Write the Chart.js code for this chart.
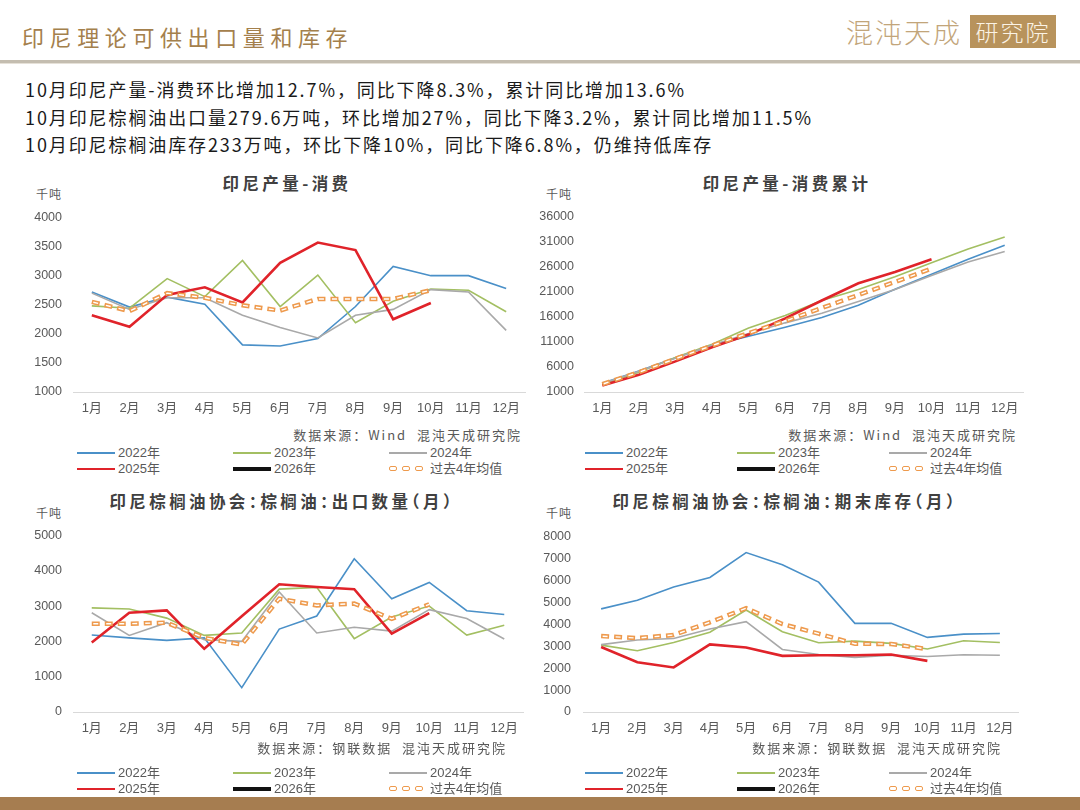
<!DOCTYPE html>
<html>
<head>
<meta charset="utf-8">
<script src="https://cdn.jsdelivr.net/npm/chart.js"></script>
<style>
  body { margin: 0; background: #fff; }
  #page { position: relative; width: 1080px; height: 810px; overflow: hidden; background: #fff; font-family: 'Noto Sans CJK SC', sans-serif; }
  .abs { position: absolute; }
  #head { left: 22px; top: 20px; font-size: 22px; color: #a4804c; letter-spacing: 5.6px; }
  #logo1 { left: 846px; top: 12px; font-size: 27px; font-weight: 300; color: #c2a57a; letter-spacing: 2px; }
  #logo2 { left: 970px; top: 15px; width: 86px; height: 33px; background: #b8935c; color: #fbf3e6; font-size: 23px; font-weight: 300; line-height: 33px; text-align: center; letter-spacing: 2px; }
  #rule { left: 0; top: 60px; width: 1080px; height: 3px; background: #c4bdb0; }
  #rule2 { left: 0; top: 63px; width: 1080px; height: 1px; background: #e6e1d8; }
  #foot { left: 0; top: 797px; width: 1080px; height: 13px; background: #a67d50; }
  .note { left: 25px; font-size: 18px; color: #1a1a1a; letter-spacing: 1.9px; line-height: 24px; }
  .ctitle { width: 420px; text-align: center; font-size: 16.5px; font-weight: bold; color: #404040; letter-spacing: 3.4px; line-height: 20px; font-feature-settings: "halt"; }
  .unit { font-size: 12px; color: #595959; letter-spacing: 1px; line-height: 14px; }
  .src { width: 300px; text-align: right; font-size: 13px; color: #595959; letter-spacing: 2px; line-height: 16px; white-space: pre; }
  .box { position: absolute; }
  .leg { font-size: 13px; color: #595959; line-height: 16px; font-family: 'Liberation Sans', 'Noto Sans CJK SC', sans-serif; }
  .sw { position: absolute; width: 38px; }
  .cap { position: absolute; top: -3px; width: 6px; height: 3px; border: 1.5px solid #ee9a4d; border-radius: 2px; }
</style>
</head>
<body>
<div id="page">
  <div class="abs" id="head">印尼理论可供出口量和库存</div>
  <div class="abs" id="logo1">混沌天成</div>
  <div class="abs" id="logo2">研究院</div>
  <div class="abs" id="rule"></div>
  <div class="abs" id="rule2"></div>
  <div class="abs note" style="top:77px">10月印尼产量-消费环比增加12.7%，同比下降8.3%，累计同比增加13.6%</div>
  <div class="abs note" style="top:105px">10月印尼棕榈油出口量279.6万吨，环比增加27%，同比下降3.2%，累计同比增加11.5%</div>
  <div class="abs note" style="top:132px">10月印尼棕榈油库存233万吨，环比下降10%，同比下降6.8%，仍维持低库存</div>
  <div class="abs" id="foot"></div>
</div>
<script>
const months = ['1月', '2月', '3月', '4月', '5月', '6月', '7月', '8月', '9月', '10月', '11月', '12月']
const seriesNames = ['2022年', '2023年', '2024年', '2025年', '2026年', '过去4年均值']

// 印尼产量-消费 (千吨)
const prod2022 = [2720, 2460, 2630, 2510, 1810, 1790, 1920, 2470, 3160, 3000, 3000, 2780]
const prod2023 = [2480, 2440, 2950, 2640, 3260, 2470, 3010, 2190, 2560, 2770, 2750, 2380]
const prod2024 = [2700, 2420, 2620, 2620, 2320, 2110, 1930, 2320, 2420, 2760, 2720, 2060]
const prod2025 = [2320, 2120, 2670, 2800, 2540, 3220, 3570, 3440, 2250, 2530]
const prodAvg = [2550, 2390, 2700, 2620, 2490, 2400, 2600, 2600, 2600, 2750]

// 印尼产量-消费累计
const cum2022 = [2720, 5180, 7810, 10320, 12130, 13920, 15840, 18310, 21470, 24470, 27470, 30250]
const cum2023 = [2480, 4920, 7870, 10510, 13770, 16240, 19250, 21440, 24000, 26770, 29520, 31900]
const cum2024 = [2700, 5120, 7740, 10360, 12680, 14790, 16720, 19040, 21460, 24220, 26940, 29000]
const cum2025 = [2320, 4440, 7110, 9910, 12450, 15670, 19240, 22680, 24930, 27460]
const cumAvg = [2550, 4940, 7640, 10260, 12750, 15150, 17750, 20350, 22950, 25600]

// 出口数量
const exp2022 = [2180, 2100, 2030, 2100, 690, 2350, 2720, 4340, 3210, 3670, 2870, 2760]
const exp2023 = [2950, 2920, 2660, 2170, 2240, 3480, 3530, 2080, 2690, 3000, 2180, 2460]
const exp2024 = [2810, 2170, 2530, 2050, 2000, 3400, 2240, 2400, 2290, 2900, 2650, 2070]
const exp2025 = [1970, 2810, 2880, 1790, 2710, 3620, 3540, 3480, 2220, 2800]
const expAvg = [2500, 2500, 2530, 2100, 1910, 3210, 3020, 3070, 2640, 3050]

// 期末库存
const stk2022 = [4700, 5090, 5700, 6130, 7270, 6710, 5920, 4040, 4040, 3400, 3550, 3580]
const stk2023 = [3050, 2790, 3170, 3640, 4650, 3660, 3160, 3230, 3130, 2870, 3250, 3170]
const stk2024 = [3070, 3280, 3350, 3780, 4120, 2850, 2620, 2490, 2590, 2530, 2610, 2590]
const stk2025 = [2960, 2270, 2030, 3080, 2940, 2560, 2590, 2590, 2620, 2330]
const stkAvg = [3460, 3370, 3510, 4090, 4730, 4010, 3570, 3110, 3100, 2870]

const colors = ['#4a90c8', '#a3bf62', '#a9a9a9', '#e0232a', '#111111', '#ee9a4d']
const widths = [1.6, 1.6, 1.6, 2.6, 4, 0]
const tickFont = { family: "'Liberation Sans', 'Noto Sans CJK SC', sans-serif", size: 12.5 }
const page = document.getElementById('page')

function addText(cls, text, left, top, width) {
    const el = document.createElement('div')
    el.className = 'abs ' + cls
    el.style.left = left + 'px'
    el.style.top = top + 'px'
    if (width) el.style.width = width + 'px'
    el.appendChild(document.createTextNode(text))
    page.appendChild(el)
}

function addLegend(x0, colStep, y0) {
    seriesNames.forEach((name, i) => {
        const x = x0 + (i % 3) * colStep
        const y = y0 + Math.floor(i / 3) * 16
        const sw = document.createElement('div')
        sw.className = 'sw'
        sw.style.left = x + 'px'
        sw.style.top = y + 'px'
        if (i == 5) {
            for (let k = 0; k < 3; k++) {
                const c = document.createElement('div')
                c.className = 'cap'
                c.style.left = (k * 13) + 'px'
                sw.appendChild(c)
            }
        } else {
            sw.style.height = widths[i] + 'px'
            sw.style.marginTop = (-widths[i] / 2) + 'px'
            sw.style.background = colors[i]
        }
        page.appendChild(sw)
        addText('leg', name, x + 41, y - 8)
    })
}

function makeChart(cfg) {
    const box = document.createElement('div')
    box.className = 'box'
    box.style.left = cfg.left + 'px'
    box.style.top = cfg.top + 'px'
    box.style.width = cfg.width + 'px'
    box.style.height = cfg.height + 'px'
    const cv = document.createElement('canvas')
    box.appendChild(cv)
    page.appendChild(box)

    const sets = cfg.series.map((d, i) => ({
        data: d,
        borderColor: colors[i],
        borderWidth: widths[i],
        order: 5 - i
    }))
    sets.push({ data: cfg.avg, borderColor: '#ee9a4d', borderWidth: 4.5, borderDash: [8, 5], order: 1 })
    sets.push({ data: cfg.avg, borderColor: '#ffffff', borderWidth: 1.4, borderDash: [5, 8], borderDashOffset: -1.5, order: 0 })

    new Chart(cv, {
        type: 'line',
        data: { labels: months, datasets: sets },
        options: {
            responsive: true,
            maintainAspectRatio: false,
            animation: false,
            layout: { padding: { top: 10, right: 5, bottom: 0, left: 0 } },
            elements: { point: { radius: 0 }, line: { tension: 0, fill: false } },
            plugins: { legend: { display: false }, tooltip: { enabled: false } },
            scales: {
                x: {
                    offset: true,
                    grid: { display: false, drawTicks: false },
                    border: { display: true, color: '#d9d9d9', width: 1 },
                    ticks: { color: '#595959', font: { family: tickFont.family, size: 13 }, padding: 9, maxRotation: 0, autoSkip: false },
                    afterFit: s => { s.height = 30 }
                },
                y: {
                    min: cfg.min, max: cfg.max,
                    grid: { display: false, drawTicks: false },
                    border: { display: false },
                    ticks: { stepSize: cfg.step, color: '#595959', font: tickFont, padding: cfg.pad, callback: v => String(v) },
                    afterFit: s => { s.width = cfg.yw }
                }
            }
        }
    })
}

// 印尼产量-消费
addText('ctitle', '印尼产量-消费', 77, 173)
addText('unit', '千吨', 36, 187)
makeChart({ left: 20, top: 199, width: 510, height: 223, yw: 53, pad: 11, min: 1000, max: 4000, step: 500,
    series: [prod2022, prod2023, prod2024, prod2025], avg: prodAvg })
addText('src', '数据来源：Wind  混沌天成研究院', 222, 427)
addLegend(77, 156, 453)

// 累计
addText('ctitle', '印尼产量-消费累计', 577, 173)
addText('unit', '千吨', 546, 187)
makeChart({ left: 534, top: 199, width: 494, height: 223, yw: 50, pad: 10, min: 1000, max: 36000, step: 5000,
    series: [cum2022, cum2023, cum2024, cum2025], avg: cumAvg })
addText('src', '数据来源：Wind  混沌天成研究院', 717, 427)
addLegend(585, 152, 453)

// 出口
addText('ctitle', '印尼棕榈油协会：棕榈油：出口数量（月）', 72, 491)
addText('unit', '千吨', 36, 506)
makeChart({ left: 20, top: 517, width: 508, height: 225, yw: 53, pad: 11, min: 0, max: 5000, step: 1000,
    series: [exp2022, exp2023, exp2024, exp2025], avg: expAvg })
addText('src', '数据来源：钢联数据  混沌天成研究院', 207, 740)
addLegend(77, 156, 773)

// 库存
addText('ctitle', '印尼棕榈油协会：棕榈油：期末库存（月）', 575, 491)
addText('unit', '千吨', 546, 506)
makeChart({ left: 534, top: 517, width: 489, height: 225, yw: 49, pad: 12, min: 0, max: 8000, step: 1000,
    series: [stk2022, stk2023, stk2024, stk2025], avg: stkAvg })
addText('src', '数据来源：钢联数据  混沌天成研究院', 702, 740)
addLegend(585, 152, 773)
</script>
</body>
</html>
